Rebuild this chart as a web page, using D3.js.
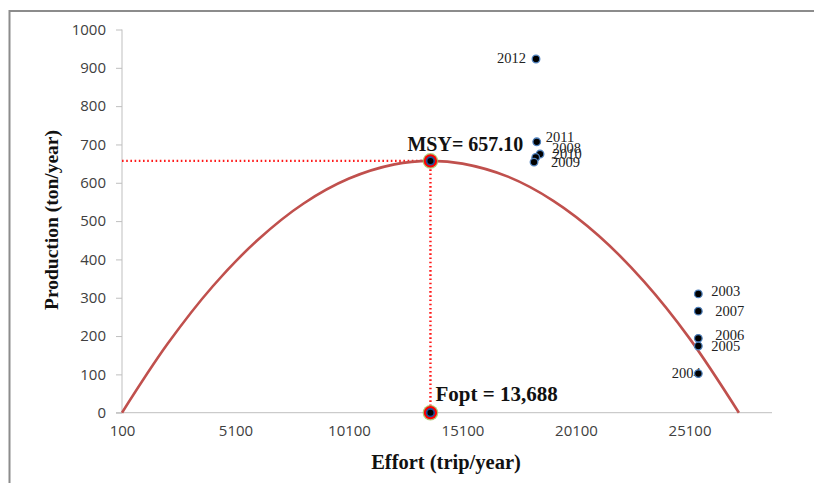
<!DOCTYPE html>
<html>
<head>
<meta charset="utf-8">
<script src="https://cdn.jsdelivr.net/npm/d3@7"></script>
<style>
  body { margin: 0; background: #fff; overflow: hidden; }
  .tick text { font-family: "Open Sans", "Liberation Sans", sans-serif; font-size: 15px; fill: #404040; }
  .yr { font-family: "Liberation Serif", serif; font-size: 14.5px; fill: #222; }
  .ttl { font-family: "Liberation Serif", serif; font-weight: bold; fill: #111; }
</style>
</head>
<body>
<div id="chart"></div>
<script>
// curve (effort, production)
var curveEffort = [100, 2100, 4100, 6100, 8100, 10100, 12100, 13688, 15100, 17100, 19100, 21100, 23100, 25100, 27276];
var curveProd   = [0, 179, 330, 452, 546, 611, 648, 657.1, 650, 616, 553, 462, 342, 194, 0];

// observed years
var years  = ["2012", "2011", "2008", "2010", "2009", "2003", "2007", "2006", "2005", "2004"];
var effort = [18338, 18370, 18515, 18326, 18251, 25488, 25488, 25488, 25488, 25488];
var prod   = [923, 707, 675, 666, 654, 310, 265, 194, 174, 102];
// label offsets (dx, dy, anchor) so the overlapping labels sit like the original
var labDx  = [-10, 9, 12, 17, 17, 13, 17, 17, 13, -26.5];
var labDy  = [4, 0, -1, 2, 4.5, 2, 5, 1.7, 5, 4.5];
var labAnc = ["end", "start", "start", "start", "start", "start", "start", "start", "start", "start"];

var xTicks = [100, 5100, 10100, 15100, 20100, 25100];
var yTicks = [0, 100, 200, 300, 400, 500, 600, 700, 800, 900, 1000];

var fOpt = 13688, msy = 657.10;

var W = 814, H = 483;
var svg = d3.select("#chart").append("svg").attr("width", W).attr("height", H);

// outer frame
svg.append("rect").attr("x", 9.5).attr("y", 11).attr("width", 830).attr("height", 500)
  .attr("fill", "none").attr("stroke", "#8c8c8c").attr("stroke-width", 2);

var margin = {left: 122, top: 29.5};
var width = 650, height = 383.2;
var g = svg.append("g").attr("transform", "translate(" + margin.left + "," + margin.top + ")");

var x = d3.scaleLinear().domain([100, 28734]).range([0, width]);
var y = d3.scaleLinear().domain([0, 1000]).range([height, 0]);

// y axis
var yAxis = g.append("g").call(d3.axisLeft(y).tickValues(yTicks).tickSize(6).tickPadding(10).tickFormat(d3.format("d")));
yAxis.select(".domain").attr("stroke", "#bfbfbf").attr("d", "M0,0V" + height);
yAxis.selectAll(".tick line").attr("stroke", "#bfbfbf");

// x axis
var xAxis = g.append("g").attr("transform", "translate(0," + height + ")")
  .call(d3.axisBottom(x).tickValues(xTicks).tickSize(0).tickPadding(13).tickFormat(d3.format("d")));
xAxis.select(".domain").attr("stroke", "#bfbfbf").attr("d", "M-6,0H" + width);

// dotted guides
var guide = g.append("g").attr("stroke", "#ff1a1a").attr("stroke-width", 2.4)
  .attr("stroke-dasharray", "1.6,2.6").attr("fill", "none");
guide.append("line").attr("x1", 0).attr("x2", x(fOpt)).attr("y1", y(msy)).attr("y2", y(msy));
guide.append("line").attr("x1", x(fOpt)).attr("x2", x(fOpt)).attr("y1", y(msy)).attr("y2", y(0));

// fitted curve
var line = d3.line().curve(d3.curveCatmullRom)
  .x(function(d, i) { return x(curveEffort[i]); })
  .y(function(d) { return y(d); });
g.append("path").datum(curveProd).attr("d", line)
  .attr("fill", "none").attr("stroke", "#c0504d").attr("stroke-width", 2.6);

// year labels
g.selectAll(".yr").data(years).enter().append("text").attr("class", "yr")
  .attr("x", function(d, i) { return x(effort[i]) + labDx[i]; })
  .attr("y", function(d, i) { return y(prod[i]) + labDy[i]; })
  .attr("text-anchor", function(d, i) { return labAnc[i]; })
  .text(function(d) { return d; });

// observed points (on top of labels, 2004's dot hides its last digit)
var pts = g.selectAll(".pt").data(years).enter().append("g").attr("class", "pt");
pts.append("circle")
  .attr("cx", function(d, i) { return x(effort[i]); })
  .attr("cy", function(d, i) { return y(prod[i]); })
  .attr("r", 3.8).attr("fill", "#000").attr("stroke", "#4f81bd").attr("stroke-width", 1.3);

// MSY / Fopt markers
[[fOpt, msy], [fOpt, 0]].forEach(function(p) {
  var cx = x(p[0]), cy = y(p[1]);
  g.append("circle").attr("cx", cx).attr("cy", cy).attr("r", 7.8).attr("fill", "#9bbb59").attr("opacity", 0.8);
  g.append("circle").attr("cx", cx).attr("cy", cy).attr("r", 6.6).attr("fill", "#ff0000");
  g.append("circle").attr("cx", cx).attr("cy", cy).attr("r", 4.6).attr("fill", "#1f4e9a");
  g.append("circle").attr("cx", cx).attr("cy", cy).attr("r", 3).attr("fill", "#000");
});

g.append("text").attr("class", "ttl").attr("font-size", 20)
  .attr("x", x(fOpt) - 23).attr("y", y(msy) - 10).text("MSY= 657.10");
g.append("text").attr("class", "ttl").attr("font-size", 21)
  .attr("x", x(fOpt) + 5).attr("y", y(0) - 12).text("Fopt = 13,688");

// axis titles
svg.append("text").attr("class", "ttl").attr("font-size", 19.5).attr("text-anchor", "middle")
  .attr("transform", "translate(58,220) rotate(-90)").text("Production (ton/year)");
svg.append("text").attr("class", "ttl").attr("font-size", 20.5).attr("text-anchor", "middle")
  .attr("x", 446).attr("y", 469).text("Effort (trip/year)");
</script>
</body>
</html>
